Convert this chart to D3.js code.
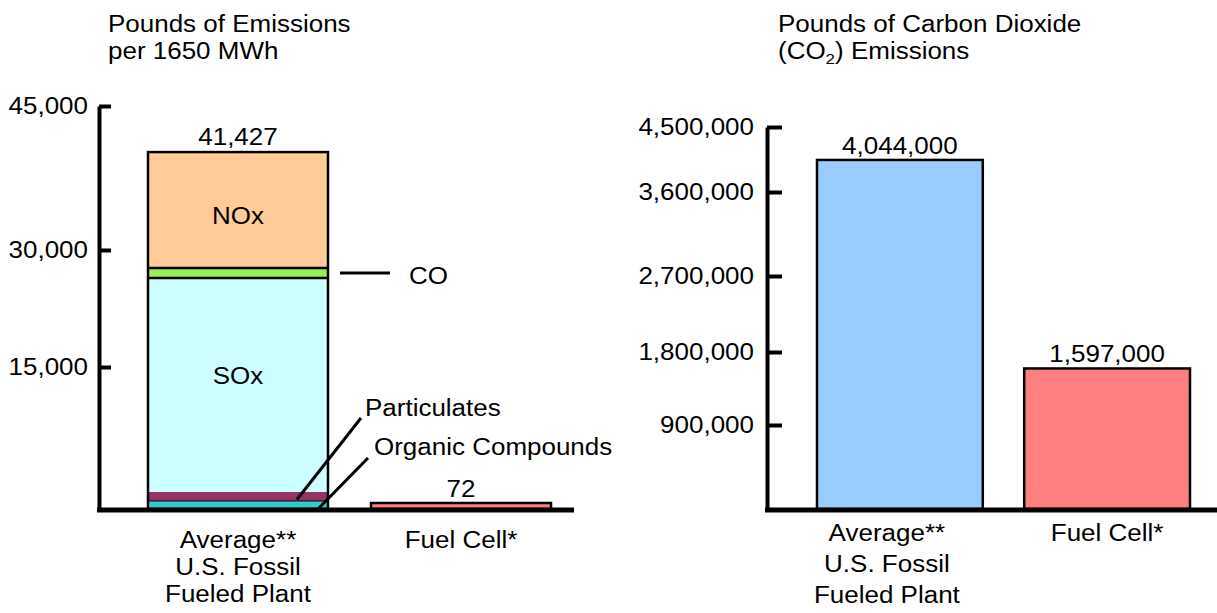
<!DOCTYPE html>
<html lang="en">
<meta charset="utf-8">
<head>
  <script src="https://d3js.org/d3.v7.min.js"></script>
</head>
<style>
  body { margin: 0; background: #fff; }
  svg text { font-family: "Liberation Sans", Arial, sans-serif; font-size: 23px; fill: #000; }
</style>
<body>
<div id="chart"></div>
<script>
// ---- data ----
var plants = ["Average**|U.S. Fossil|Fueled Plant", "Fuel Cell*"];
var pollutants = ["Organic Compounds", "Particulates", "SOx", "CO", "NOx"];
var fossilEmissions = [850, 950, 24600, 1280, 12520];
var fuelCellEmission = 72;
var emissionTotals = [41427, 72];
var emissionTicks = [15000, 30000, 45000];

var co2Values = [4044000, 1597000];
var co2Ticks = [900000, 1800000, 2700000, 3600000, 4500000];

var fmt = d3.format(",");
var sx = 1.13; // glyphs in the original are a little wider than Arial

var svg = d3.select("#chart").append("svg")
    .attr("width", 1217)
    .attr("height", 613);

// text helper, stretched horizontally like the original
function label(g, x, y, txt, anchor) {
  return g.append("text")
    .attr("transform", `translate(${x},${y}) scale(${sx},1)`)
    .attr("text-anchor", anchor || "middle")
    .text(txt);
}

function styleAxis(g) {
  g.attr("font-size", null).attr("font-family", null);
  g.select(".domain").attr("stroke", "#000").attr("stroke-width", 4);
  g.selectAll(".tick line").attr("stroke", "#000").attr("stroke-width", 4);
  g.selectAll(".tick text").attr("transform", `scale(${sx},1)`);
}

/*
    Left chart: pounds of emissions
*/
var yL = d3.scaleLinear()
    .domain([0].concat(emissionTicks))
    .range([509, 367, 250, 106]);
var xL = d3.scaleBand().domain(plants).range([148, 551]).paddingInner(0.193);

label(svg, 108, 32, "Pounds of Emissions", "start");
label(svg, 108, 59, "per 1650 MWh", "start");

var axL = svg.append("g")
    .attr("transform", "translate(99,0)")
    .call(d3.axisLeft(yL).tickValues(emissionTicks).tickFormat(fmt)
      .tickSize(-12).tickSizeOuter(0).tickPadding(11 / sx));
styleAxis(axL);

var colors = {
  "Organic Compounds": "#33CCCC",
  "Particulates": "#993366",
  "SOx": "#CCFFFF",
  "CO": "#99EE55",
  "NOx": "#FFCC99"
};
// separator drawn on top of each segment
var sepWidth = {"Organic Compounds": 1, "Particulates": 0, "SOx": 2.5, "CO": 2.5, "NOx": 0};

var row = {};
pollutants.forEach(function(p, i) { row[p] = fossilEmissions[i]; });
var series = d3.stack().keys(pollutants)([row]);

var bx = xL(plants[0]), bw = xL.bandwidth(), xr = bx + bw;
var stackG = svg.append("g");
stackG.selectAll("rect.seg")
  .data(series)
  .join("rect")
    .attr("class", "seg")
    .attr("x", bx)
    .attr("width", bw)
    .attr("y", function(s) { return yL(s[0][1]); })
    .attr("height", function(s) { return yL(s[0][0]) - yL(s[0][1]); })
    .attr("fill", function(s) { return colors[s.key]; });

stackG.selectAll("line.sep")
  .data(series.filter(function(s) { return sepWidth[s.key] > 0; }))
  .join("line")
    .attr("class", "sep")
    .attr("x1", bx).attr("x2", xr)
    .attr("y1", function(s) { return yL(s[0][1]); })
    .attr("y2", function(s) { return yL(s[0][1]); })
    .attr("stroke", "#000")
    .attr("stroke-width", function(s) { return sepWidth[s.key]; });

var stackTop = series[series.length - 1][0][1];
stackG.append("rect")
    .attr("x", bx).attr("width", bw)
    .attr("y", yL(stackTop))
    .attr("height", yL(0) - yL(stackTop))
    .attr("fill", "none")
    .attr("stroke", "#000")
    .attr("stroke-width", 2.5);

// labels inside the bar
var inner = {"NOx": 6, "SOx": -9};
series.forEach(function(s) {
  if (inner[s.key] === undefined) return;
  var mid = (yL(s[0][0]) + yL(s[0][1])) / 2;
  label(svg, bx + bw / 2, mid + 8 + inner[s.key], s.key);
});

// callouts for the thin layers
var byKey = {};
series.forEach(function(s) { byKey[s.key] = s[0]; });
function midY(k) { return (yL(byKey[k][0]) + yL(byKey[k][1])) / 2; }

var coY = midY("CO");
svg.append("line").attr("x1", xr + 12).attr("x2", xr + 62)
    .attr("y1", coY).attr("y2", coY)
    .attr("stroke", "#000").attr("stroke-width", 3);
label(svg, xr + 81, coY + 11, "CO", "start");

svg.append("line").attr("x1", xr - 31).attr("y1", midY("Particulates") + 3)
    .attr("x2", xr + 33).attr("y2", 418)
    .attr("stroke", "#000").attr("stroke-width", 3);
label(svg, xr + 37, 416, "Particulates", "start");

svg.append("line").attr("x1", xr - 10).attr("y1", midY("Organic Compounds") + 4)
    .attr("x2", xr + 40).attr("y2", 458)
    .attr("stroke", "#000").attr("stroke-width", 3);
label(svg, xr + 46, 455, "Organic Compounds", "start");

// fuel cell bar (too small to see at true height)
var fx = xL(plants[1]);
var fh = Math.max(yL(0) - yL(fuelCellEmission), 6);
svg.append("rect")
    .attr("x", fx).attr("width", xL.bandwidth())
    .attr("y", yL(0) - fh).attr("height", fh)
    .attr("fill", "#FF8080")
    .attr("stroke", "#000").attr("stroke-width", 2.5);

// totals above the bars
label(svg, bx + bw / 2, yL(stackTop) - 7, fmt(emissionTotals[0]));
label(svg, fx + xL.bandwidth() / 2, yL(0) - fh - 6, fmt(emissionTotals[1]));

svg.append("line").attr("x1", 97).attr("x2", 574)
    .attr("y1", yL(0) + 1).attr("y2", yL(0) + 1)
    .attr("stroke", "#000").attr("stroke-width", 5);

plants.forEach(function(p) {
  p.split("|").forEach(function(line, i) {
    label(svg, xL(p) + xL.bandwidth() / 2, 548 + i * 27, line);
  });
});

/*
    Right chart: pounds of CO2
*/
var yR = d3.scaleLinear()
    .domain([0].concat(co2Ticks))
    .range([509, 425, 352, 276, 192, 127]);
var xR = d3.scaleBand().domain(plants).range([817, 1190]).paddingInner(0.2);

label(svg, 778, 32, "Pounds of Carbon Dioxide", "start");
var t2 = svg.append("text")
    .attr("transform", `translate(778,59) scale(${sx},1)`);
t2.append("tspan").text("(CO");
t2.append("tspan").attr("dy", 5).style("font-size", "15px").text("2");
t2.append("tspan").attr("dy", -5).text(") Emissions");

var axR = svg.append("g")
    .attr("transform", "translate(767,0)")
    .call(d3.axisLeft(yR).tickValues(co2Ticks).tickFormat(fmt)
      .tickSize(-15).tickSizeOuter(0).tickPadding(13 / sx));
styleAxis(axR);

var co2Colors = ["#99CCFF", "#FF7F7F"];
svg.append("g").selectAll("rect")
  .data(co2Values)
  .join("rect")
    .attr("x", function(d, i) { return xR(plants[i]); })
    .attr("width", xR.bandwidth())
    .attr("y", function(d) { return yR(d); })
    .attr("height", function(d) { return yR(0) - yR(d); })
    .attr("fill", function(d, i) { return co2Colors[i]; })
    .attr("stroke", "#000")
    .attr("stroke-width", 2.5);

co2Values.forEach(function(d, i) {
  label(svg, xR(plants[i]) + xR.bandwidth() / 2, yR(d) - 6, fmt(d));
});

svg.append("line").attr("x1", 765).attr("x2", 1217)
    .attr("y1", yR(0) + 1).attr("y2", yR(0) + 1)
    .attr("stroke", "#000").attr("stroke-width", 5);

// the first category caption sits a little left of its bar in the original
var captionShift = [-13, 0];
plants.forEach(function(p, k) {
  p.split("|").forEach(function(line, i) {
    label(svg, xR(p) + xR.bandwidth() / 2 + captionShift[k], 541 + i * 31, line);
  });
});
</script>
</body>
</html>
